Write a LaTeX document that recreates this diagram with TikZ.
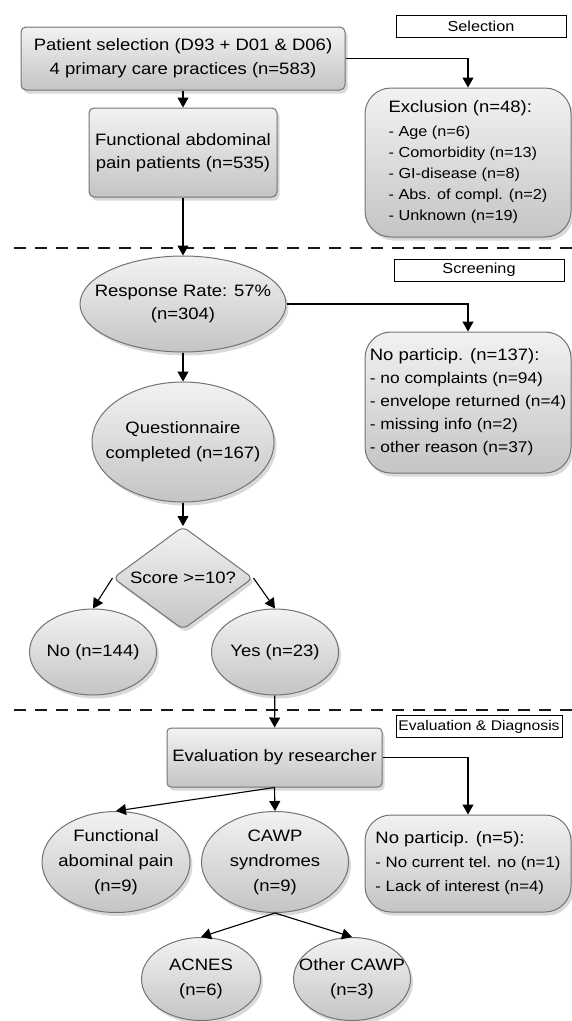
\documentclass[tikz,border=0pt]{standalone}
\usepackage{fontspec}
\setmainfont{Liberation Sans}[FakeStretch=1.12]
\usetikzlibrary{arrows.meta}
\usetikzlibrary{shapes.geometric}
\usetikzlibrary{shadows}

\definecolor{boxtop}{gray}{0.95}
\definecolor{boxbot}{gray}{0.77}
\definecolor{boxline}{gray}{0.45}

\begin{document}
\begin{tikzpicture}[x=1pt,y=-1pt,line width=1pt,
  shadebox/.style={draw=boxline,top color=boxtop,bottom color=boxbot,
    drop shadow={shadow xshift=2.5pt,shadow yshift=-3.5pt,opacity=0.3}},
  rbox/.style={shadebox,rounded corners=5pt,inner sep=2pt,align=center,font=\fontsize{16.5}{24}\selectfont},
  bulge/.style={shadebox,rounded corners=26pt,inner sep=2pt,align=left},
  oval/.style={shadebox,ellipse,inner sep=0pt},
  txt/.style={align=center,font=\fontsize{16.5}{24}\selectfont},
  stage/.style={draw=black,line width=0.8pt,fill=white,minimum height=22pt,inner sep=1pt,font=\fontsize{14.5}{16}\selectfont},
  flow/.style={-{Triangle[length=10pt,width=11pt]},line width=1.1pt},
  sep/.style={dash pattern=on 12pt off 9pt,line width=1.4pt,gray!20!black}]

\useasboundingbox (0,0) rectangle (572,1021);

% section borders
\draw[sep] (14,248) -- (572,248);
\draw[sep] (14,710) -- (572,710);

% stage labels
\node[stage,minimum width=170pt] (labsel) at (481,26) {Selection};
\node[stage,minimum width=170pt] (labscr) at (479,270) {Screening};
\node[stage,minimum width=166pt,font=\fontsize{14}{16}\selectfont] (labeval) at (479,726.5) {Evaluation \& Diagnosis};

% selection
\node[rbox,minimum width=324pt,minimum height=63pt] (patsel) at (183,58.5)
  {Patient selection (D93 + D01 \& D06)\\4 primary care practices (n=583)};
\node[rbox,minimum width=188pt,minimum height=89pt,font=\fontsize{16.5}{23}\selectfont] (funcpain) at (183,152.5)
  {Functional abdominal\\pain patients (n=535)};
\node[bulge,minimum width=206pt,minimum height=149pt,font=\fontsize{14.5}{21}\selectfont] (excl) at (468,162.5)
  {{\fontsize{16.5}{21}\selectfont Exclusion (n=48):}\\[3pt]
   - Age (n=6)\\- Comorbidity (n=13)\\- GI-disease (n=8)\\- Abs. of compl. (n=2)\\- Unknown (n=19)};

% screening
\node[oval,minimum width=206pt,minimum height=96pt,
  label={[txt,font=\fontsize{16.5}{23}\selectfont]center:{Response Rate: 57\%\\(n=304)}}] (resp) at (183,304) {};
\node[bulge,minimum width=206pt,minimum height=141pt,font=\fontsize{15.5}{23}\selectfont] (noresp) at (468,402.5)
  {{\fontsize{16.5}{23}\selectfont No particip. (n=137):}\\
   - no complaints (n=94)\\- envelope returned (n=4)\\- missing info (n=2)\\- other reason (n=37)};
\node[oval,minimum width=182pt,minimum height=120pt,
  label={[txt,font=\fontsize{16.5}{25}\selectfont]center:{Questionnaire\\completed (n=167)}}] (quest) at (183,442) {};
\node[shadebox,diamond,aspect=1.36,rounded corners=6pt,inner sep=0pt,minimum width=140pt,minimum height=103pt,
  label={[txt]center:{Score >=10?}}] (score) at (183,578) {};
\node[oval,minimum width=127pt,minimum height=86pt,label={[txt]center:{No (n=144)}}] (scno) at (93,652) {};
\node[oval,minimum width=127pt,minimum height=86pt,label={[txt]center:{Yes (n=23)}}] (scyes) at (275,652) {};

% evaluation
\node[rbox,rounded corners=4pt,minimum width=215pt,minimum height=59pt] (evalres) at (274.5,757.5) {Evaluation by researcher};
\node[bulge,minimum width=206pt,minimum height=97pt,font=\fontsize{15}{24}\selectfont] (noeval) at (468,863.5)
  {{\fontsize{16.5}{23}\selectfont No particip. (n=5):}\\
   - No current tel. no (n=1)\\- Lack of interest (n=4)};
\node[oval,minimum width=148pt,minimum height=101pt,
  label={[txt,font=\fontsize{16.5}{25}\selectfont]center:{Functional\\abominal pain\\(n=9)}}] (fap) at (116,862) {};
\node[oval,minimum width=147pt,minimum height=101pt,
  label={[txt,font=\fontsize{16.5}{25}\selectfont]center:{CAWP\\syndromes\\(n=9)}}] (cawp) at (275,862) {};
\node[oval,minimum width=119pt,minimum height=83pt,
  label={[txt,font=\fontsize{16.5}{25}\selectfont]center:{ACNES\\(n=6)}}] (acnes) at (201,979) {};
\node[oval,minimum width=117pt,minimum height=83pt,
  label={[txt,font=\fontsize{16.5}{25}\selectfont]center:{Other CAWP\\(n=3)}}] (ocawp) at (352,979) {};

% arrows
\draw[flow] (patsel) -- (funcpain);
\draw[flow] (patsel.east) -| (excl.north);
\draw[flow] (funcpain) -- (resp);
\draw[flow] (resp.east) -| (noresp.north);
\draw[flow] (resp) -- (quest);
\draw[flow] (quest) -- (score);
\draw[flow] (score.west) -- (scno.north);
\draw[flow] (score.east) -- (scyes.north);
\draw[flow] (scyes) -- (evalres);
\draw[flow] (evalres.east) -| (noeval.north);
\draw[flow] (evalres.south) -- (fap.north);
\draw[flow] (evalres.south) -- (cawp.north);
\draw[flow] (cawp.south) -- (acnes.north);
\draw[flow] (cawp.south) -- (ocawp.north);

\end{tikzpicture}
\end{document}
